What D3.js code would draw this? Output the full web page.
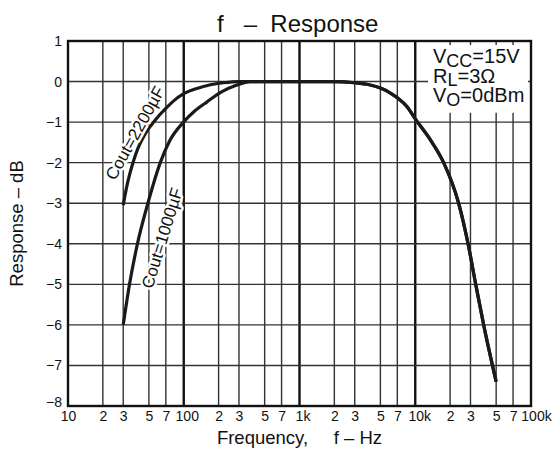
<!DOCTYPE html>
<html>
<head>
<meta charset="utf-8">
<script src="https://cdn.jsdelivr.net/npm/d3@7"></script>
<style>
  body { margin: 0; background: #fff; }
  text { font-family: "Liberation Sans", Arial, sans-serif; fill: #111; }
</style>
</head>
<body>
<div id="chart"></div>
<script>
// frequency response
var freq2200 = [30, 32, 34, 36.7, 40, 45, 50, 55, 62, 70, 80, 100, 130, 170, 220, 300, 1000, 2000, 3000, 4000, 5000, 6000, 7000, 8500, 10000, 13400, 17600, 23700, 28600, 33300, 39000, 50000];
var resp2200 = [-3.05, -2.62, -2.3, -1.97, -1.66, -1.36, -1.15, -1, -0.82, -0.66, -0.5, -0.3, -0.17, -0.08, -0.03, 0, 0, 0, -0.03, -0.08, -0.16, -0.27, -0.4, -0.62, -0.92, -1.42, -2, -3, -4, -5, -6, -7.4];

var freq1000 = [30, 34, 39.8, 49, 55, 62.7, 76, 99.6, 125, 159, 214, 280, 377, 1000, 2000, 3000, 4000, 5000, 6000, 7000, 8500, 10000, 13400, 17600, 23700, 28600, 33300, 39000, 50000];
var resp1000 = [-6, -5, -4, -3, -2.5, -2, -1.45, -1, -0.72, -0.5, -0.25, -0.1, 0, 0, 0, -0.03, -0.08, -0.16, -0.27, -0.4, -0.62, -0.92, -1.42, -2, -3, -4, -5, -6, -7.4];

var xTicks = [10, 20, 30, 50, 70, 100, 200, 300, 500, 700, 1000, 2000, 3000, 5000, 7000, 10000, 20000, 30000, 50000, 70000, 100000];
var xTickLabels = ["10", "2", "3", "5", "7", "100", "2", "3", "5", "7", "1k", "2", "3", "5", "7", "10k", "2", "3", "5", "7", "100k"];
var yTicks = [1, 0, -1, -2, -3, -4, -5, -6, -7, -8];
var yTickLabels = ["1", "0", "\u22121", "\u22122", "\u22123", "\u22124", "\u22125", "\u22126", "\u22127", "\u22128"];

var W = 555, H = 450;
var margin = {top: 41, right: 24, bottom: 44, left: 68},
    width = W - margin.left - margin.right,
    height = H - margin.top - margin.bottom;

var svg = d3.select("#chart")
  .append("svg")
    .attr("width", W)
    .attr("height", H);

var g = svg.append("g")
    .attr("transform", "translate(" + margin.left + "," + margin.top + ")");

var x = d3.scaleLog()
  .domain([10, 100000])
  .range([0, width]);

var y = d3.scaleLinear()
  .domain([-8, 1])
  .range([height, 0]);

var isDecade = function(f) { return [100, 1000, 10000].indexOf(f) >= 0; };

// vertical grid
g.selectAll(".vgrid")
  .data(xTicks.filter(function(f) { return f > 10 && f < 100000; }))
  .enter().append("line")
    .attr("x1", function(d) { return x(d); })
    .attr("x2", function(d) { return x(d); })
    .attr("y1", 0)
    .attr("y2", height)
    .attr("stroke", function(d) { return isDecade(d) ? "#111" : "#333"; })
    .attr("stroke-width", function(d) { return isDecade(d) ? 2.4 : 1.4; });

// horizontal grid
g.selectAll(".hgrid")
  .data(yTicks.filter(function(v) { return v > -8 && v < 1; }))
  .enter().append("line")
    .attr("x1", 0)
    .attr("x2", width)
    .attr("y1", function(d) { return y(d); })
    .attr("y2", function(d) { return y(d); })
    .attr("stroke", "#333")
    .attr("stroke-width", 1.4);

// legend box (white background over the grid)
g.append("rect")
  .attr("x", 360)
  .attr("y", y(0.9))
  .attr("width", 100)
  .attr("height", y(-0.77) - y(0.9))
  .attr("fill", "#fff");

var line = d3.line()
  .x(function(d) { return x(d[0]); })
  .y(function(d) { return y(d[1]); })
  .curve(d3.curveMonotoneX);

g.append("path")
  .datum(d3.zip(freq1000, resp1000))
  .attr("fill", "none")
  .attr("stroke", "#1a1a1a")
  .attr("stroke-width", 3.2)
  .attr("stroke-linejoin", "round")
  .attr("d", line);

g.append("path")
  .datum(d3.zip(freq2200, resp2200))
  .attr("fill", "none")
  .attr("stroke", "#1a1a1a")
  .attr("stroke-width", 3.2)
  .attr("stroke-linejoin", "round")
  .attr("d", line);

// curve labels (centre in page pixels)
function curveLabel(txt, cx, cy, angle) {
  svg.append("text")
    .attr("transform", "translate(" + cx + "," + cy + ") rotate(" + angle + ")")
    .attr("text-anchor", "middle")
    .attr("dy", "0.35em")
    .attr("font-size", 17)
    .attr("stroke", "#fff")
    .attr("stroke-width", 5)
    .attr("stroke-linejoin", "round")
    .attr("paint-order", "stroke")
    .text(txt);
}
curveLabel("Cout=2200\u00b5F", 135, 133, -61);
curveLabel("Cout=1000\u00b5F", 162, 238, -73);

// frame
g.append("rect")
  .attr("width", width)
  .attr("height", height)
  .attr("fill", "none")
  .attr("stroke", "#111")
  .attr("stroke-width", 2.4);

// x axis labels
var xAxis = g.append("g")
  .attr("transform", "translate(0," + height + ")")
  .call(d3.axisBottom(x)
    .tickValues(xTicks)
    .tickFormat(function(d, i) { return xTickLabels[i]; })
    .tickSize(0)
    .tickPadding(5));
xAxis.select(".domain").remove();
xAxis.selectAll("text")
  .attr("font-size", 14)
  .attr("font-family", "Liberation Sans, Arial, sans-serif")
  .attr("fill", "#111")
  .attr("dx", function(d) {
    if (d === 100 || d === 1000) return 3;
    if (d === 10000) return 4;
    if (d === 100000) return 5;
    return 0;
  });

// y axis labels
var yAxis = g.append("g")
  .call(d3.axisLeft(y)
    .tickValues(yTicks)
    .tickFormat(function(d, i) { return yTickLabels[i]; })
    .tickSize(0)
    .tickPadding(6));
yAxis.select(".domain").remove();
yAxis.selectAll("text")
  .attr("font-size", 14)
  .attr("font-family", "Liberation Sans, Arial, sans-serif")
  .attr("fill", "#111")
  .attr("dy", function(d) { return d === -8 ? "0.0em" : "0.32em"; });

// title
svg.append("text")
  .attr("x", 217)
  .attr("y", 32)
  .attr("font-size", 24)
  .attr("xml:space", "preserve")
  .text("f   \u2013  Response");

// axis titles
svg.append("text")
  .attr("x", margin.left + width / 2)
  .attr("y", 444)
  .attr("text-anchor", "middle")
  .attr("font-size", 18.5)
  .attr("xml:space", "preserve")
  .text("Frequency,     f \u2013 Hz");

svg.append("text")
  .attr("transform", "translate(23," + (margin.top + height / 2) + ") rotate(-90)")
  .attr("text-anchor", "middle")
  .attr("font-size", 18.5)
  .text("Response \u2013 dB");

// conditions legend
var legend = g.append("g")
  .attr("transform", "translate(365,0)");
var conds = [["V", "CC", "=15V"], ["R", "L", "=3\u03a9"], ["V", "O", "=0dBm"]];
conds.forEach(function(c, i) {
  var t = legend.append("text")
    .attr("y", 22 + i * 19.5)
    .attr("font-size", 20);
  t.append("tspan").text(c[0]);
  t.append("tspan").attr("dy", 3.5).attr("font-size", 18).text(c[1]);
  t.append("tspan").attr("dy", -3.5).text(c[2]);
});
</script>
</body>
</html>
